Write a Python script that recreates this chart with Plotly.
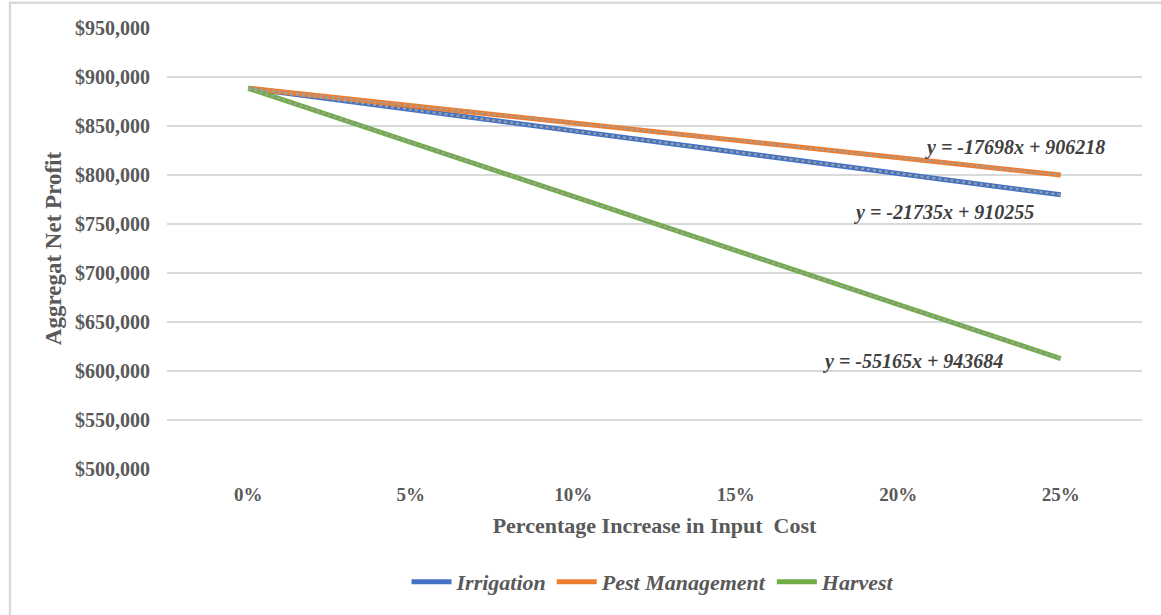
import numpy as np
import plotly.graph_objects as go

# Percentage increase in input cost (categories on the x axis)
cost_increase = ["0%", "5%", "10%", "15%", "20%", "25%"]

# Aggregate net profit ($) for each input-cost scenario
irrigation = [888500, 866800, 845100, 823300, 801600, 779800]
pest_management = [888500, 870800, 853100, 835400, 817700, 800000]
harvest = [888500, 833400, 778200, 723000, 667900, 612700]

series_names = ["Irrigation", "Pest Management", "Harvest"]
series_colors = ["#4472C4", "#ED7D31", "#70AD47"]

# Linear trendline coefficients (y = slope * x + intercept, x = 1..6)
trend_slope = [-21735, -17698, -55165]
trend_intercept = [910255, 906218, 943684]

# Trendline label placement (category index, profit value)
eq_x = [4.28, 4.72, 4.09]
eq_y = [762000, 828500, 610200]

FONT = "Liberation Serif, Times New Roman, serif"
TXT = "#595959"

fig = go.Figure()
all_series = [irrigation, pest_management, harvest]

for name, vals, col in zip(series_names, all_series, series_colors):
    fig.add_trace(go.Scatter(
        x=cost_increase, y=vals, mode="lines", name=name,
        line=dict(color=col, width=5),
    ))

# Dotted grey trendlines drawn over each series, with their equations
xi = np.arange(1, len(cost_increase) + 1)
for slope, icpt, ex, ey in zip(trend_slope, trend_intercept, eq_x, eq_y):
    fig.add_trace(go.Scatter(
        x=cost_increase, y=slope * xi + icpt, mode="lines",
        line=dict(color="#A0A0A0", width=2.2, dash="dot"),
        showlegend=False, hoverinfo="skip",
    ))
    sign = "+" if icpt >= 0 else "-"
    fig.add_annotation(
        x=ex, y=ey, xref="x", yref="y", showarrow=False,
        text=f"y = {slope}x {sign} {abs(icpt)}",
        font=dict(family=FONT, size=20, color="#404040", weight="bold", style="italic"),
    )

# Chart area border
fig.add_shape(type="rect", xref="paper", yref="paper",
              x0=-0.161, x1=1.2, y0=-0.5, y1=1.057,
              line=dict(color="#D9D9D9", width=2.5), fillcolor="rgba(0,0,0,0)", layer="below")

fig.update_layout(
    width=1161, height=615,
    margin=dict(l=167, r=19, t=28, b=146),
    paper_bgcolor="white", plot_bgcolor="white",
    font=dict(family=FONT, color=TXT),
    showlegend=True,
    legend=dict(
        orientation="h", x=0.499, xanchor="center", y=-0.256, yanchor="middle",
        font=dict(family=FONT, size=22, color=TXT, weight="bold", style="italic"),
        itemwidth=40, tracegroupgap=0,
    ),
    xaxis=dict(
        type="category", range=[-0.5, 5.5],
        showgrid=False, showline=False, zeroline=False,
        ticks="", ticklabelstandoff=12,
        tickfont=dict(family=FONT, size=19, color=TXT, weight="bold"),
        title=dict(text="Percentage Increase in Input  Cost", standoff=13,
                   font=dict(family=FONT, size=22, color=TXT, weight="bold")),
    ),
    yaxis=dict(
        range=[500000, 950000], dtick=50000, tickprefix="$", tickformat=",.0f",
        showgrid=True, gridcolor="#D9D9D9", gridwidth=1.5,
        zeroline=False, showline=False, ticks="", ticklabelstandoff=16,
        tickfont=dict(family=FONT, size=20, color=TXT, weight="bold"),
        title=dict(text="Aggregat Net Profit", standoff=6,
                   font=dict(family=FONT, size=23, color=TXT, weight="bold")),
    ),
)

fig.write_html("out.html")
